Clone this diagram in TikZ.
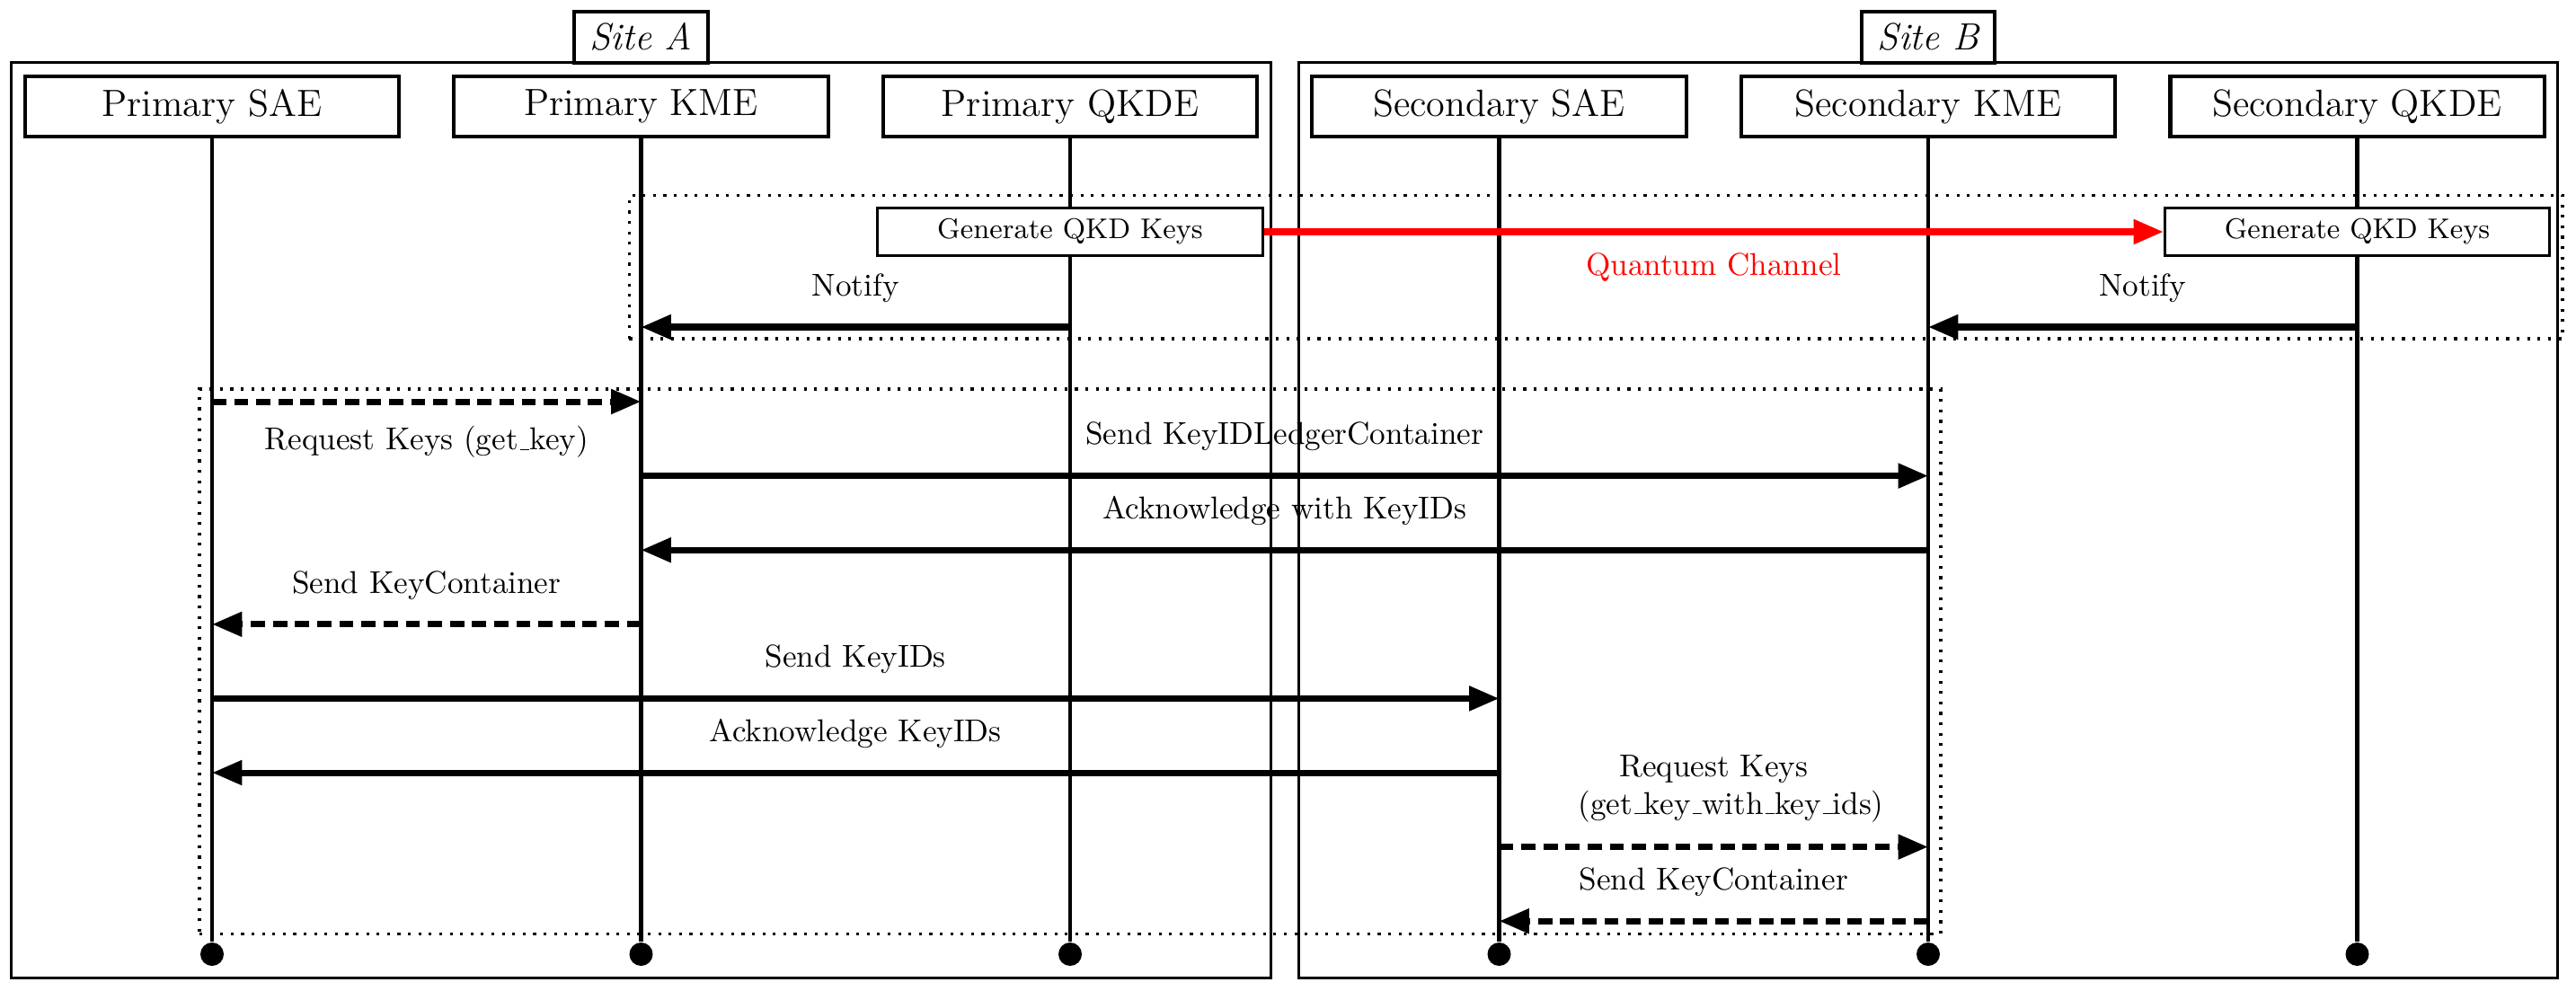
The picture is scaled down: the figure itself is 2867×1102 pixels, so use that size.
\documentclass[tikz,border=0pt]{standalone}
\usetikzlibrary{shapes,arrows.meta,fit,positioning,calc}
% short low rule, as the old text underscore
\newcommand{\undsc}{\leavevmode\kern.06em\vbox{\hrule width.3em}}

\begin{document}
\begin{tikzpicture}[% one unit is one pixel of the page, y runs downwards
		x=0.01cm,y=-0.01cm,
		actor/.style={rectangle,draw,very thick,fill=white,
			minimum width=4.16cm,minimum height=0.67cm,font=\large},
		sitelabel/.style={rectangle,draw,very thick,fill=white,
			inner xsep=5pt,minimum height=0.57cm,font=\large\itshape},
		sitebox/.style={rectangle,draw,thick,inner sep=0.13cm},
		genbox/.style={rectangle,draw,thick,fill=white,
			minimum width=4.28cm,minimum height=0.43cm,font=\small},
		lifeline/.style={draw,very thick},
		enddot/.style={circle,fill,inner sep=0pt,minimum size=0.26cm},
		msg/.style={draw,line width=2pt,-{Triangle[length=9.5pt,width=7.5pt]}},
		dashmsg/.style={msg,dash pattern=on 4.5pt off 2.5pt},
		quantum/.style={msg,red},
		group/.style={rectangle,draw,line width=0.9pt,
			dash pattern=on 0.9pt off 2.4pt,inner sep=0.13cm},
		lbl/.style={above=3.5pt}	% message text sits above its arrow
	]
	\useasboundingbox (0,0) rectangle (2867,1102);

	% actors
	\node[actor](SAE) at (236,118.5){Primary SAE};
	\node[actor](KME)[right=0.57cm of SAE]{Primary KME};
	\node[actor](QKDE)[right=0.57cm of KME]{Primary QKDE};
	\node[actor](SSAE)[right=0.57cm of QKDE]{Secondary SAE};
	\node[actor](SKME)[right=0.57cm of SSAE]{Secondary KME};
	\node[actor](SQKDE)[right=0.57cm of SKME]{Secondary QKDE};

	% rows
	\coordinate (gen) at (0,258);
	\coordinate (notify) at (0,364);
	\coordinate (r1) at (0,447);
	\coordinate (r2) at (0,529.6);
	\coordinate (r3) at (0,612.2);
	\coordinate (r4) at (0,694.8);
	\coordinate (r5) at (0,777.4);
	\coordinate (r6) at (0,860);
	\coordinate (r7) at (0,942.6);
	\coordinate (r8) at (0,1025.2);
	\coordinate (bottom) at (0,1062);

	% end of the lifelines
	\node[enddot](SAE-end) at (SAE |- bottom){};
	\node[enddot](KME-end) at (KME |- bottom){};
	\node[enddot](QKDE-end) at (QKDE |- bottom){};
	\node[enddot](SSAE-end) at (SSAE |- bottom){};
	\node[enddot](SKME-end) at (SKME |- bottom){};
	\node[enddot](SQKDE-end) at (SQKDE |- bottom){};

	% sites
	\node[sitebox,fit=(SAE)(QKDE)(SAE-end)](siteA){};
	\node[sitebox,fit=(SSAE)(SQKDE)(SSAE-end)](siteB){};
	\node[sitelabel,anchor=south,yshift=-1pt](labelA) at (KME |- siteA.north){Site A};
	\node[sitelabel,anchor=south,yshift=-1pt](labelB) at (SKME |- siteB.north){Site B};

	\path
	(SAE)edge[lifeline] (SAE-end)
	(KME)edge[lifeline] (KME-end)
	(QKDE)edge[lifeline] (QKDE-end)
	(SSAE)edge[lifeline] (SSAE-end)
	(SKME)edge[lifeline] (SKME-end)
	(SQKDE)edge[lifeline] (SQKDE-end)
	;

	% key generation
	\node[genbox](genA) at (QKDE |- gen){Generate QKD Keys};
	\node[genbox](genB) at (SQKDE |- gen){Generate QKD Keys};
	\path
	(genA)edge[quantum] node[below=2.5pt,red] {Quantum Channel} (genB)
	(QKDE |- notify)edge[msg] node[lbl] {Notify} (KME |- notify)
	(SQKDE |- notify)edge[msg] node[lbl] {Notify} (SKME |- notify)
	;
	\node[group,fit=(genA)(genB)(KME |- notify)](keygen){};

	% key delivery
	\path
	(SAE |- r1)edge[dashmsg] node[below=3.5pt] {Request Keys (get\undsc key)} (KME |- r1)
	(KME |- r2)edge[msg] node[lbl] {Send KeyIDLedgerContainer} (SKME |- r2)
	(SKME |- r3)edge[msg] node[lbl] {Acknowledge with KeyIDs} (KME |- r3)
	(KME |- r4)edge[dashmsg] node[lbl] {Send KeyContainer} (SAE |- r4)
	(SAE |- r5)edge[msg] node[lbl] {Send KeyIDs} (SSAE |- r5)
	(SSAE |- r6)edge[msg] node[lbl] {Acknowledge KeyIDs} (SAE |- r6)
	(SSAE |- r7)edge[dashmsg] node[lbl,align=center] {Request Keys\\ \hspace*{11pt}(get\undsc key\undsc with\undsc key\undsc ids)} (SKME |- r7)
	(SKME |- r8)edge[dashmsg] node[lbl] {Send KeyContainer} (SSAE |- r8)
	;
	\node[group,inner sep=0.14cm,fit=(SAE |- r1)(SKME |- r8)](delivery){};
\end{tikzpicture}
\end{document}
